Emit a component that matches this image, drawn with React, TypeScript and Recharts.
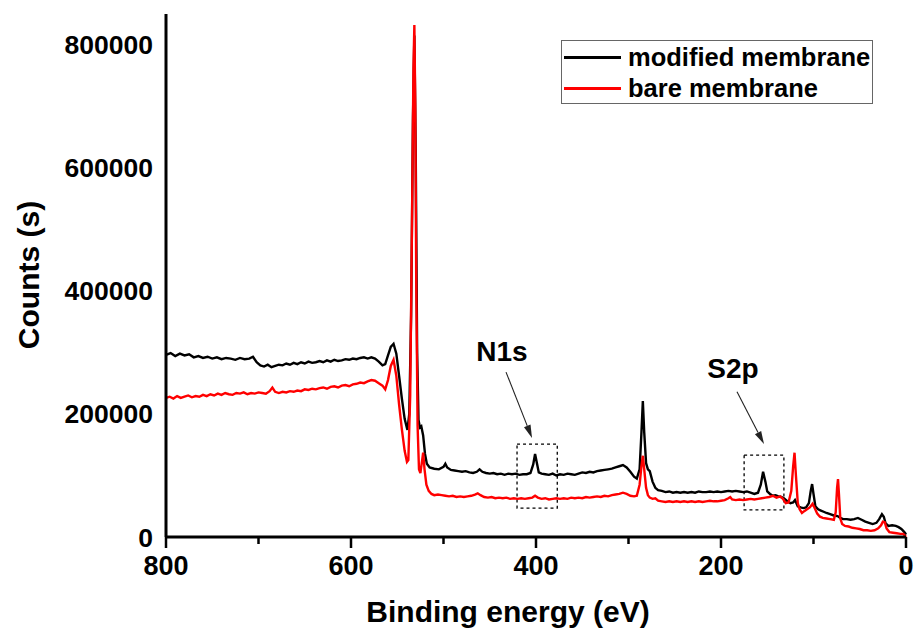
import React from "react";
import {
  Label,
  Legend,
  Line,
  LineChart,
  ReferenceArea,
  ReferenceDot,
  ReferenceLine,
  XAxis,
  YAxis,
} from "recharts";

// modified membrane (black)
const modEnergy = [
  800, 795, 790, 785, 780, 775, 770, 765, 760, 755, 750, 745, 740, 735, 730, 725, 720, 715, 710, 706,
  702, 698, 694, 690, 686, 682, 678, 674, 670, 666, 662, 658, 654, 650, 646, 642, 638, 634, 630, 626,
  622, 618, 614, 610, 606, 602, 598, 594, 590, 586, 582, 578, 574, 570, 566, 563, 560, 557, 554, 551,
  548, 545, 542, 539, 537, 535, 533, 531.5, 530, 528.5, 527, 525.5, 524, 522, 520, 518, 515, 510, 505, 500,
  498, 496, 492, 488, 484, 480, 476, 472, 468, 464, 461, 458, 454, 450, 446, 442, 438, 434, 430, 426,
  422, 418, 414, 410, 406, 403, 401, 399, 397, 394, 390, 386, 382, 378, 374, 370, 366, 362, 358, 354,
  350, 346, 342, 338, 334, 330, 326, 322, 318, 314, 310, 306, 302, 298, 294, 291, 288, 286, 284.5, 283,
  281, 279, 277, 274, 271, 268, 264, 260, 256, 252, 248, 244, 240, 236, 232, 228, 224, 220, 216, 212,
  208, 204, 200, 196, 192, 188, 184, 180, 176, 172, 168, 164, 160, 157, 154.5, 152, 150, 147, 144, 141,
  138, 135, 132, 128, 125, 122, 120, 117, 114, 111, 108, 105, 103, 101.5, 100, 98, 95, 92, 89, 86,
  82, 78, 74, 71, 68, 64, 60, 56, 52, 48, 44, 40, 36, 32, 29, 26, 24, 22, 19, 15,
  11, 8, 5, 3, 1, 0,
];
const modCounts = [
  296000, 299000, 294000, 298000, 295000, 297000, 292000, 294000, 291000, 293000, 290000, 292000, 289000, 291000, 290000, 288000, 291000, 289000, 290000, 293000,
  284000, 279000, 277000, 280000, 276000, 278000, 280000, 279000, 282000, 280000, 283000, 281000, 284000, 282000, 285000, 283000, 284000, 286000, 284000, 287000,
  285000, 288000, 286000, 287000, 289000, 288000, 290000, 289000, 291000, 292000, 290000, 292000, 290000, 285000, 279000, 281000, 295000, 309000, 314000, 298000,
  262000, 225000, 192000, 174000, 200000, 360000, 680000, 815000, 620000, 300000, 190000, 178000, 180000, 165000, 135000, 119000, 113000, 111000, 110000, 114000,
  119000, 113000, 109000, 108000, 107000, 106000, 107000, 105000, 104000, 106000, 110000, 106000, 104000, 103000, 104000, 102000, 103000, 101000, 103000, 102000,
  103000, 101000, 102000, 102000, 104000, 118000, 135000, 120000, 105000, 103000, 102000, 101000, 103000, 100000, 102000, 101000, 103000, 102000, 101000, 103000,
  105000, 104000, 106000, 105000, 107000, 108000, 109000, 110000, 111000, 113000, 115000, 117000, 113000, 106000, 98000, 95000, 110000, 170000, 221000, 170000,
  120000, 110000, 107000, 90000, 80000, 76000, 75000, 73000, 74000, 72000, 73000, 72000, 73000, 72000, 73000, 72000, 74000, 73000, 73000, 74000,
  73000, 74000, 73000, 74000, 75000, 74000, 75000, 74000, 73000, 74000, 72000, 70000, 72000, 85000, 106000, 90000, 74000, 70000, 67000, 68000,
  66000, 65000, 63000, 58000, 55000, 56000, 60000, 50000, 48000, 47000, 48000, 55000, 75000, 86000, 70000, 50000, 45000, 43000, 41000, 39000,
  37000, 35000, 34000, 31000, 29000, 29000, 28000, 29000, 31000, 28000, 25000, 23000, 21000, 23000, 29000, 37000, 33000, 22000, 18000, 19000,
  18000, 16000, 13000, 10000, 6500, 4000,
];

// bare membrane (red)
const bareEnergy = [
  800, 796, 792, 788, 784, 780, 776, 772, 768, 764, 760, 756, 752, 748, 744, 740, 736, 732, 728, 724,
  720, 716, 712, 708, 704, 700, 696, 692, 688, 685, 682, 678, 674, 670, 666, 662, 658, 654, 650, 646,
  642, 638, 634, 630, 626, 622, 618, 614, 610, 606, 602, 598, 594, 590, 586, 582, 578, 574, 570, 566,
  563, 560, 557, 554, 551, 548, 545, 542, 539.5, 538, 536, 534, 532.5, 531.5, 530.5, 529.5, 528, 526.5, 525, 523.5,
  522, 520.5, 518.5, 516, 513, 510, 506, 502, 498, 494, 490, 486, 482, 478, 474, 470, 466, 463, 460, 456,
  452, 448, 444, 440, 436, 432, 428, 424, 420, 416, 412, 408, 404, 401, 398, 394, 390, 386, 382, 378,
  374, 370, 366, 362, 358, 354, 350, 346, 342, 338, 334, 330, 326, 322, 318, 314, 310, 306, 302, 298,
  294, 291, 288, 286, 284.5, 283, 281, 279, 277, 274, 271, 268, 264, 260, 256, 252, 248, 244, 240, 236,
  232, 228, 224, 220, 216, 212, 208, 204, 200, 196, 192, 190, 188, 184, 180, 176, 172, 168, 164, 160,
  156, 152, 148, 144, 140, 136, 133, 130, 127, 124, 122, 120.5, 119, 117, 115, 112.5, 110, 107, 104, 101,
  99, 96, 93, 90, 86, 82, 78, 76, 74.5, 73.5, 72.5, 71, 69, 66, 62, 58, 54, 50, 46, 42,
  38, 34, 30, 27, 25, 23, 21, 18, 14, 10, 6, 3, 1, 0,
];
const bareCounts = [
  226000, 228000, 225000, 229000, 226000, 228000, 230000, 227000, 229000, 228000, 231000, 229000, 232000, 230000, 233000, 231000, 234000, 232000, 231000, 234000,
  233000, 235000, 232000, 234000, 233000, 235000, 234000, 233000, 237000, 243000, 236000, 234000, 236000, 235000, 237000, 236000, 238000, 237000, 240000, 239000,
  241000, 240000, 242000, 243000, 241000, 244000, 245000, 243000, 246000, 247000, 245000, 248000, 249000, 251000, 250000, 253000, 255000, 254000, 250000, 246000,
  240000, 255000, 278000, 288000, 262000, 215000, 175000, 140000, 122000, 125000, 230000, 520000, 760000, 832000, 700000, 420000, 180000, 110000, 104000, 120000,
  137000, 110000, 85000, 75000, 70000, 68000, 69000, 68000, 67000, 66000, 67000, 65000, 66000, 65000, 66000, 67000, 69000, 71000, 68000, 65000,
  64000, 65000, 63000, 64000, 63000, 64000, 62000, 63000, 62000, 63000, 62000, 63000, 64000, 67000, 64000, 62000, 63000, 61000, 62000, 63000,
  62000, 63000, 62000, 64000, 63000, 64000, 63000, 65000, 64000, 65000, 66000, 65000, 67000, 66000, 68000, 69000, 70000, 72000, 70000, 67000,
  66000, 67000, 85000, 115000, 132000, 110000, 80000, 68000, 64000, 62000, 63000, 59000, 58000, 57000, 58000, 57000, 58000, 57000, 58000, 57000,
  58000, 57000, 58000, 57000, 58000, 59000, 58000, 58000, 59000, 60000, 63000, 65000, 61000, 60000, 61000, 60000, 61000, 62000, 61000, 62000,
  63000, 64000, 65000, 67000, 64000, 66000, 62000, 55000, 56000, 75000, 115000, 137000, 100000, 55000, 45000, 39000, 42000, 45000, 48000, 54000,
  48000, 38000, 33000, 31000, 30000, 29000, 28000, 40000, 80000, 94000, 70000, 30000, 21000, 18000, 17000, 15000, 14000, 13000, 11000, 11000,
  10000, 11000, 14000, 19000, 25000, 24000, 14000, 8000, 7000, 6000, 5000, 5000, 2000, 0,
];

const xTicks = [0, 100, 200, 300, 400, 500, 600, 700, 800];
const yTicks = [0, 200000, 400000, 600000, 800000];

const modData = modEnergy.map((e, i) => ({ energy: e, counts: modCounts[i] }));
const bareData = bareEnergy.map((e, i) => ({ energy: e, counts: bareCounts[i] }));

const FONT = "'Liberation Sans', Arial, sans-serif";

function XTick(props: any) {
  const { x, y, payload } = props;
  const major = payload.value % 200 === 0;
  return (
    <g>
      <line x1={x} x2={x} y1={y} y2={y + (major ? 11 : 7)} stroke="#000" strokeWidth={2.5} />
      {major && (
        <text x={x} y={y + 38} textAnchor="middle" fontSize={27} fontWeight="bold" fill="#000" fontFamily={FONT}>
          {payload.value}
        </text>
      )}
    </g>
  );
}

function YTick(props: any) {
  const { x, y, payload } = props;
  return (
    <text x={x - 13} y={y} dy="0.36em" textAnchor="end" fontSize={26.5} fontWeight="bold" fill="#000" fontFamily={FONT}>
      {payload.value}
    </text>
  );
}

function Arrow(props: any) {
  const { x1, y1, x2, y2 } = props;
  if ([x1, y1, x2, y2].some((v) => typeof v !== "number" || isNaN(v))) return <g />;
  const ang = Math.atan2(y2 - y1, x2 - x1);
  const len = 13;
  const half = 3.5;
  const bx = x2 - len * Math.cos(ang);
  const by = y2 - len * Math.sin(ang);
  const px = -Math.sin(ang) * half;
  const py = Math.cos(ang) * half;
  return (
    <g>
      <line x1={x1} y1={y1} x2={bx} y2={by} stroke="#222" strokeWidth={1.1} />
      <polygon points={`${x2},${y2} ${bx + px},${by + py} ${bx - px},${by - py}`} fill="#222" />
    </g>
  );
}

function peakLabel(text: string) {
  return (p: any) => (
    <text x={p.cx} y={p.cy} dy="0.36em" textAnchor="middle" fontSize={28} fontWeight="bold" fill="#000" fontFamily={FONT}>
      {text}
    </text>
  );
}

function LegendBox() {
  const rows = [
    { name: "modified membrane", color: "#000" },
    { name: "bare membrane", color: "#ff0000" },
  ];
  return (
    <div
      style={{
        width: 310,
        height: 62,
        border: "1px solid #666",
        background: "#fff",
        fontFamily: FONT,
        boxSizing: "content-box",
      }}
    >
      {rows.map((r) => (
        <div key={r.name} style={{ display: "flex", alignItems: "center", height: 31, marginTop: r.color === "#000" ? 1 : 0 }}>
          <div style={{ width: 57, height: 2.5, background: r.color, marginLeft: 2, flexShrink: 0 }} />
          <span
            style={{
              marginLeft: 7,
              fontSize: 25.5,
              fontWeight: "bold",
              color: "#000",
              lineHeight: "31px",
              whiteSpace: "nowrap",
            }}
          >
            {r.name}
          </span>
        </div>
      ))}
    </div>
  );
}

export default function App() {
  return (
    <div style={{ position: "absolute", left: 0, top: 0, width: 916, height: 630, background: "#fff" }}>
      <LineChart width={916} height={630} margin={{ top: 14, right: 10, bottom: 0, left: 0 }} style={{ fontFamily: FONT }}>
        <XAxis
          dataKey="energy"
          type="number"
          domain={[0, 800]}
          reversed
          ticks={xTicks}
          interval={0}
          height={93}
          tickSize={0}
          tickMargin={0}
          tickLine={false}
          tick={<XTick />}
          axisLine={{ stroke: "#000", strokeWidth: 3 }}
          allowDuplicatedCategory={false}
        >
          <Label
            content={() => (
              <text x={508} y={622} textAnchor="middle" fontSize={30} fontWeight="bold" fill="#000" fontFamily={FONT}>
                Binding energy (eV)
              </text>
            )}
          />
        </XAxis>
        <XAxis
          xAxisId="top"
          orientation="top"
          type="number"
          domain={[0, 800]}
          reversed
          height={0}
          tick={false}
          tickLine={false}
          axisLine={{ stroke: "#000", strokeWidth: 3 }}
        />
        <YAxis
          type="number"
          domain={[0, 850000]}
          ticks={yTicks}
          interval={0}
          width={166}
          tickSize={0}
          tickMargin={0}
          tickLine={false}
          tick={<YTick />}
          axisLine={{ stroke: "#000", strokeWidth: 3 }}
        >
          <Label
            content={() => (
              <text
                x={28}
                y={275}
                transform="rotate(-90 28 275)"
                dy="0.36em"
                textAnchor="middle"
                fontSize={30}
                fontWeight="bold"
                fill="#000"
                fontFamily={FONT}
              >
                Counts (s)
              </text>
            )}
          />
        </YAxis>
        <YAxis
          yAxisId="right"
          orientation="right"
          type="number"
          domain={[0, 850000]}
          width={0}
          tick={false}
          tickLine={false}
          axisLine={{ stroke: "#000", strokeWidth: 3 }}
        />
        <Legend
          layout="vertical"
          align="center"
          verticalAlign="middle"
          content={() => <LegendBox />}
          wrapperStyle={{ position: "absolute", left: 561, top: 40, width: 312, height: 64 }}
        />
        <ReferenceArea x1={420.5} x2={377} y1={47000} y2={151000} fill="none" stroke="#000" strokeWidth={1.3} strokeDasharray="3 3" />
        <ReferenceArea x1={175} x2={132} y1={44000} y2={133000} fill="none" stroke="#000" strokeWidth={1.3} strokeDasharray="3 3" />
        <ReferenceLine segment={[{ x: 432.4, y: 268000 }, { x: 404.3, y: 161000 }]} shape={Arrow} />
        <ReferenceLine segment={[{ x: 182.7, y: 236000 }, { x: 153.5, y: 151000 }]} shape={Arrow} />
        <ReferenceDot x={436.8} y={302000} r={0} shape={peakLabel("N1s")} />
        <ReferenceDot x={187} y={275000} r={0} shape={peakLabel("S2p")} />
        <Line
          data={modData}
          dataKey="counts"
          name="modified membrane"
          type="linear"
          stroke="#000"
          strokeWidth={2.4}
          dot={false}
          isAnimationActive={false}
        />
        <Line
          data={bareData}
          dataKey="counts"
          name="bare membrane"
          type="linear"
          stroke="#ff0000"
          strokeWidth={2.4}
          dot={false}
          isAnimationActive={false}
        />
      </LineChart>
    </div>
  );
}
